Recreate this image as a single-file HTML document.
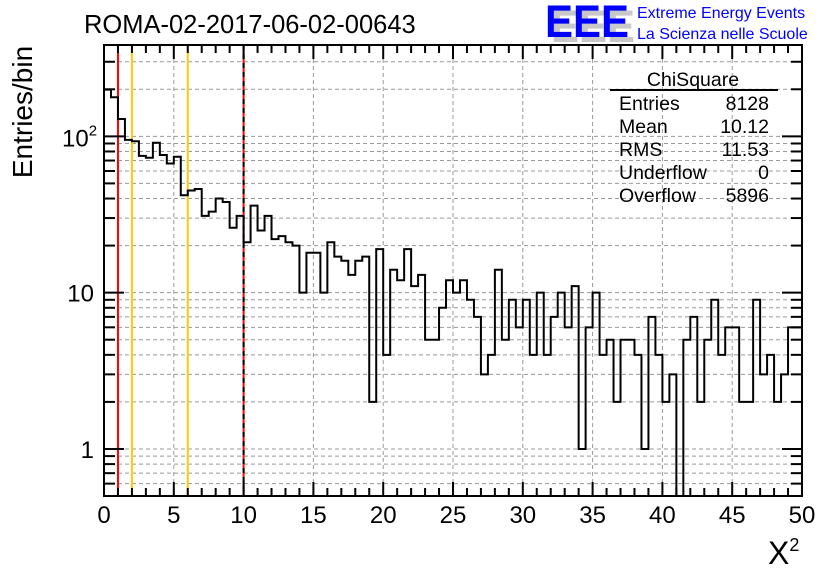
<!DOCTYPE html>
<html><head><meta charset="utf-8"><style>
html,body{margin:0;padding:0;background:#fff}
svg{display:block}
text{font-family:"Liberation Sans",sans-serif}
</style></head><body>
<svg id="chart" width="836" height="572" xmlns="http://www.w3.org/2000/svg">
<g id="grid"></g>
<g id="lines"></g>
<path id="hist" fill="none" stroke="#000" stroke-width="2"/>
<g id="axes"></g>
<text x="84" y="33" font-size="25.5">ROMA-02-2017-06-02-00643</text>
<text transform="translate(32,112) rotate(-90)" text-anchor="middle" font-size="28">Entries/bin</text>
<text x="768" y="564" font-size="32" font-family="Liberation Serif,serif">X<tspan font-size="18" dy="-13">2</tspan></text>
<g>
<text x="551" y="42" font-size="45" font-weight="bold" fill="#c8c8c8" textLength="84" lengthAdjust="spacingAndGlyphs">EEE</text>
<text x="545" y="37" font-size="45" font-weight="bold" fill="#0000ff" textLength="84" lengthAdjust="spacingAndGlyphs">EEE</text>
<text x="637" y="18" font-size="16" fill="#0000ff">Extreme Energy Events</text>
<text x="637" y="39" font-size="16" fill="#0000ff">La Scienza nelle Scuole</text>
</g>
<g font-size="19.5">
<text x="693" y="86" text-anchor="middle">ChiSquare</text>
<line x1="610" y1="90" x2="778" y2="90" stroke="#000" stroke-width="2"/>
<text x="619" y="110">Entries</text><text x="769" y="110" text-anchor="end">8128</text>
<text x="619" y="133">Mean</text><text x="769" y="133" text-anchor="end">10.12</text>
<text x="619" y="156">RMS</text><text x="769" y="156" text-anchor="end">11.53</text>
<text x="619" y="179">Underflow</text><text x="769" y="179" text-anchor="end">0</text>
<text x="619" y="202">Overflow</text><text x="769" y="202" text-anchor="end">5896</text>
</g>
</svg>
<script>
const binCounts = [199,178,129,95,93,75,73,91,76,67,74,42,45,46,31,33,40,38,26,31,21,36,25,31,22,23,21,20,10,18,18,10,21,17,16,13,16,17,2,19,4,14,12,19,11,13,5,5,8,12,10,12,9,7,3,4,14,5,9,6,9,4,10,4,7,10,6,11,1,6,10,4,5,2,5,5,4,1,7,4,2,3,0,5,7,2,5,9,4,6,6,2,2,9,3,4,2,3,6,6];
const xMin = 0, xMax = 50, binWidth = 0.5;
const yMin = 0.5, yMax = 384;
const xTickLabels = [0,5,10,15,20,25,30,35,40,45,50];
const refLines = [{x:1,c:"#ff0000"},{x:2,c:"#ffcc00"},{x:6,c:"#ffcc00"},{x:10,c:"#ff0000"}];
const L=104,R=802,T=45,B=496;
const NS="http://www.w3.org/2000/svg";
function X(v){return L+(v-xMin)/(xMax-xMin)*(R-L);}
function Y(v){if(v<=0)return B;return B-(Math.log10(v)-Math.log10(yMin))/(Math.log10(yMax)-Math.log10(yMin))*(B-T);}
function mk(tag,attrs,parent){const e=document.createElementNS(NS,tag);for(const k in attrs)e.setAttribute(k,attrs[k]);parent.appendChild(e);return e;}
const grid=document.getElementById('grid'),axes=document.getElementById('axes'),lines=document.getElementById('lines');
for(let e=-1;e<=3;e++){const d=Math.pow(10,e);for(let m=1;m<=9;m++){const v=d*m;if(v<yMin-1e-9||v>yMax)continue;const y=Y(v);
const g=mk('line',{x1:L,x2:R,y1:y,y2:y,stroke:'#999','stroke-width':1,'stroke-dasharray':'4,3'},grid);


const maj=(m===1);
const t1=mk('line',{x1:L,x2:L+(maj?20:11),y1:y,y2:y,stroke:'#000','stroke-width':2},axes);


const t2=mk('line',{x1:R,x2:R-(maj?20:11),y1:y,y2:y,stroke:'#000','stroke-width':2},axes);


}}
for(let v=xMin;v<=xMax;v++){const x=X(v);const maj=(v%5===0);
if(maj&&v>xMin&&v<xMax){const g=mk('line',{x1:x,x2:x,y1:T,y2:B,stroke:'#999','stroke-width':1,'stroke-dasharray':'4,3'},grid);

}
const t1=mk('line',{x1:x,x2:x,y1:B,y2:B-(maj?14:8),stroke:'#000','stroke-width':2},axes);


const t2=mk('line',{x1:x,x2:x,y1:T,y2:T+(maj?14:8),stroke:'#000','stroke-width':2},axes);

}
xTickLabels.forEach(v=>{const t=mk('text',{x:X(v),y:523,'text-anchor':'middle','font-size':24},axes);t.textContent=v;

});
[[1,'1'],[10,'10']].forEach(([v,s])=>{const t=mk('text',{x:94,y:Y(v)+9,'text-anchor':'end','font-size':24},axes);t.textContent=s;

});
{const t=mk('text',{x:62,y:Y(100)+10,'font-size':24},axes);t.textContent='10';


const s=mk('tspan',{'font-size':15,dy:-11},t);s.textContent='2';}
const f=mk('rect',{x:L,y:T,width:R-L,height:B-T,fill:'none',stroke:'#000','stroke-width':2},axes);


refLines.forEach(r=>{const l=mk('line',{x1:X(r.x),x2:X(r.x),y1:T,y2:B,stroke:r.c,'stroke-width':2},lines);

});
{const l=mk('line',{x1:X(10),x2:X(10),y1:T,y2:B,stroke:'#000','stroke-width':2,'stroke-dasharray':'5,4'},lines);

}
let d='M'+X(xMin)+','+B;
binCounts.forEach((c,i)=>{const y=Math.min(Y(c),B);const x0=X(xMin+i*binWidth),x1=X(xMin+(i+1)*binWidth);d+=' L'+x0+','+y+' L'+x1+','+y;});
d+=' L'+X(xMax)+','+B;
document.getElementById('hist').setAttribute('d',d);
</script>
</body></html>
